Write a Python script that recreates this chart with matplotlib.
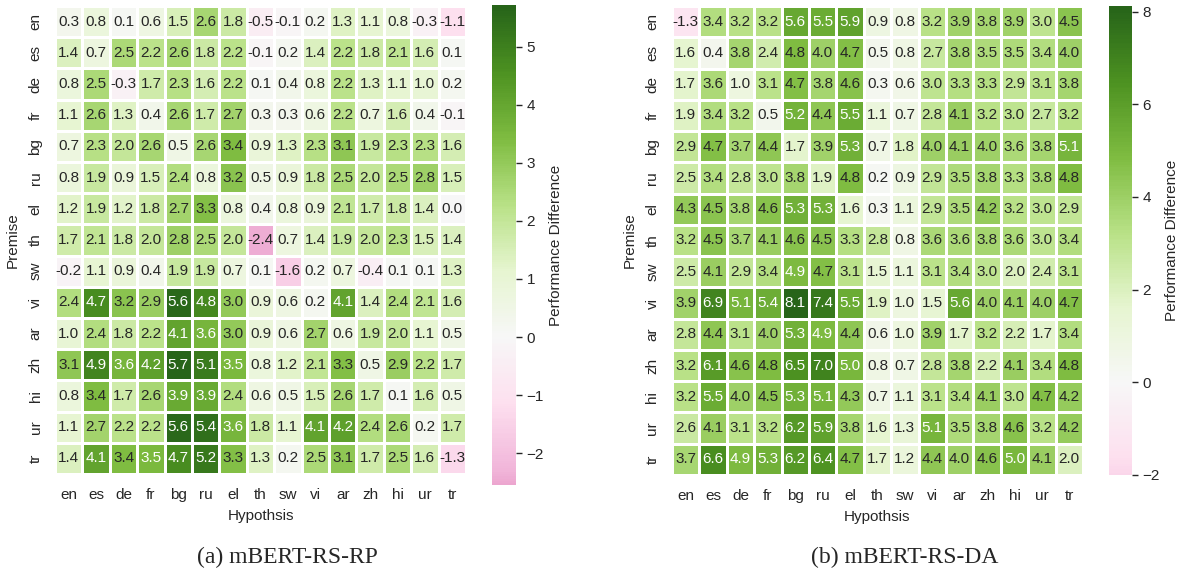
import numpy as np
import matplotlib
matplotlib.use("Agg")
import matplotlib.pyplot as plt
import seaborn as sns

langs = ["en", "es", "de", "fr", "bg", "ru", "el", "th", "sw", "vi", "ar", "zh", "hi", "ur", "tr"]

# (a) mBERT-RS-RP : rows = premise, cols = hypothesis
rp_vals = [
    [0.3, 0.8, 0.1, 0.6, 1.5, 2.6, 1.8, -0.5, -0.1, 0.2, 1.3, 1.1, 0.8, -0.3, -1.1],
    [1.4, 0.7, 2.5, 2.2, 2.6, 1.8, 2.2, -0.1, 0.2, 1.4, 2.2, 1.8, 2.1, 1.6, 0.1],
    [0.8, 2.5, -0.3, 1.7, 2.3, 1.6, 2.2, 0.1, 0.4, 0.8, 2.2, 1.3, 1.1, 1.0, 0.2],
    [1.1, 2.6, 1.3, 0.4, 2.6, 1.7, 2.7, 0.3, 0.3, 0.6, 2.2, 0.7, 1.6, 0.4, -0.1],
    [0.7, 2.3, 2.0, 2.6, 0.5, 2.6, 3.4, 0.9, 1.3, 2.3, 3.1, 1.9, 2.3, 2.3, 1.6],
    [0.8, 1.9, 0.9, 1.5, 2.4, 0.8, 3.2, 0.5, 0.9, 1.8, 2.5, 2.0, 2.5, 2.8, 1.5],
    [1.2, 1.9, 1.2, 1.8, 2.7, 3.3, 0.8, 0.4, 0.8, 0.9, 2.1, 1.7, 1.8, 1.4, 0.0],
    [1.7, 2.1, 1.8, 2.0, 2.8, 2.5, 2.0, -2.4, 0.7, 1.4, 1.9, 2.0, 2.3, 1.5, 1.4],
    [-0.2, 1.1, 0.9, 0.4, 1.9, 1.9, 0.7, 0.1, -1.6, 0.2, 0.7, -0.4, 0.1, 0.1, 1.3],
    [2.4, 4.7, 3.2, 2.9, 5.6, 4.8, 3.0, 0.9, 0.6, 0.2, 4.1, 1.4, 2.4, 2.1, 1.6],
    [1.0, 2.4, 1.8, 2.2, 4.1, 3.6, 3.0, 0.9, 0.6, 2.7, 0.6, 1.9, 2.0, 1.1, 0.5],
    [3.1, 4.9, 3.6, 4.2, 5.7, 5.1, 3.5, 0.8, 1.2, 2.1, 3.3, 0.5, 2.9, 2.2, 1.7],
    [0.8, 3.4, 1.7, 2.6, 3.9, 3.9, 2.4, 0.6, 0.5, 1.5, 2.6, 1.7, 0.1, 1.6, 0.5],
    [1.1, 2.7, 2.2, 2.2, 5.6, 5.4, 3.6, 1.8, 1.1, 4.1, 4.2, 2.4, 2.6, 0.2, 1.7],
    [1.4, 4.1, 3.4, 3.5, 4.7, 5.2, 3.3, 1.3, 0.2, 2.5, 3.1, 1.7, 2.5, 1.6, -1.3],
]

# (b) mBERT-RS-DA
da_vals = [
    [-1.3, 3.4, 3.2, 3.2, 5.6, 5.5, 5.9, 0.9, 0.8, 3.2, 3.9, 3.8, 3.9, 3.0, 4.5],
    [1.6, 0.4, 3.8, 2.4, 4.8, 4.0, 4.7, 0.5, 0.8, 2.7, 3.8, 3.5, 3.5, 3.4, 4.0],
    [1.7, 3.6, 1.0, 3.1, 4.7, 3.8, 4.6, 0.3, 0.6, 3.0, 3.3, 3.3, 2.9, 3.1, 3.8],
    [1.9, 3.4, 3.2, 0.5, 5.2, 4.4, 5.5, 1.1, 0.7, 2.8, 4.1, 3.2, 3.0, 2.7, 3.2],
    [2.9, 4.7, 3.7, 4.4, 1.7, 3.9, 5.3, 0.7, 1.8, 4.0, 4.1, 4.0, 3.6, 3.8, 5.1],
    [2.5, 3.4, 2.8, 3.0, 3.8, 1.9, 4.8, 0.2, 0.9, 2.9, 3.5, 3.8, 3.3, 3.8, 4.8],
    [4.3, 4.5, 3.8, 4.6, 5.3, 5.3, 1.6, 0.3, 1.1, 2.9, 3.5, 4.2, 3.2, 3.0, 2.9],
    [3.2, 4.5, 3.7, 4.1, 4.6, 4.5, 3.3, 2.8, 0.8, 3.6, 3.6, 3.8, 3.6, 3.0, 3.4],
    [2.5, 4.1, 2.9, 3.4, 4.9, 4.7, 3.1, 1.5, 1.1, 3.1, 3.4, 3.0, 2.0, 2.4, 3.1],
    [3.9, 6.9, 5.1, 5.4, 8.1, 7.4, 5.5, 1.9, 1.0, 1.5, 5.6, 4.0, 4.1, 4.0, 4.7],
    [2.8, 4.4, 3.1, 4.0, 5.3, 4.9, 4.4, 0.6, 1.0, 3.9, 1.7, 3.2, 2.2, 1.7, 3.4],
    [3.2, 6.1, 4.6, 4.8, 6.5, 7.0, 5.0, 0.8, 0.7, 2.8, 3.8, 2.2, 4.1, 3.4, 4.8],
    [3.2, 5.5, 4.0, 4.5, 5.3, 5.1, 4.3, 0.7, 1.1, 3.1, 3.4, 4.1, 3.0, 4.7, 4.2],
    [2.6, 4.1, 3.1, 3.2, 6.2, 5.9, 3.8, 1.6, 1.3, 5.1, 3.5, 3.8, 4.6, 3.2, 4.2],
    [3.7, 6.6, 4.9, 5.3, 6.2, 6.4, 4.7, 1.7, 1.2, 4.4, 4.0, 4.6, 5.0, 4.1, 2.0],
]

captions = ["(a) mBERT-RS-RP", "(b) mBERT-RS-DA"]

sns.set_theme(style="white")
plt.rcParams['font.family'] = ['Liberation Sans', 'DejaVu Sans']

fig = plt.figure(figsize=(11.81, 5.77), dpi=100)

# [heatmap axes], [colorbar axes], vmin, vmax, caption x
panels = [
    (rp_vals, [0.0466, 0.1785, 0.348, 0.811], [0.4166, 0.1594, 0.0203, 0.832], -2.55, 5.72, 287 / 1181),
    (da_vals, [0.569, 0.1768, 0.348, 0.8128], [0.939, 0.1768, 0.0195, 0.8128], -2.0, 8.12, 905 / 1181),
]

for (vals, hm_pos, cb_pos, vmin, vmax, cx), cap in zip(panels, captions):
    ax = fig.add_axes(hm_pos)
    cax = fig.add_axes(cb_pos)
    sns.heatmap(np.array(vals), ax=ax, cbar_ax=cax, cmap="PiYG", center=0,
                vmin=vmin, vmax=vmax, annot=True, fmt=".1f",
                annot_kws={"fontsize": 11}, linewidths=1, linecolor="white",
                xticklabels=langs, yticklabels=langs,
                cbar_kws={"label": "Performance Difference"})
    ax.set_xlabel("Hypothsis", fontsize=11, labelpad=5)
    ax.set_ylabel("Premise", fontsize=11, labelpad=6)
    ax.tick_params(axis="x", labelsize=11, length=0, pad=10)
    ax.tick_params(axis="y", labelsize=11, length=0, pad=9)
    plt.setp(ax.get_yticklabels(), rotation=90, va="center")
    plt.setp(ax.get_xticklabels(), rotation=0)
    cax.tick_params(labelsize=11, length=4, width=1, right=True, color=".15")
    cax.yaxis.label.set_size(11)
    fig.text(cx, 1 - 557 / 577, cap, ha="center", va="center", fontsize=17,
             family="Liberation Serif")

fig.savefig("out.png", dpi=100)
